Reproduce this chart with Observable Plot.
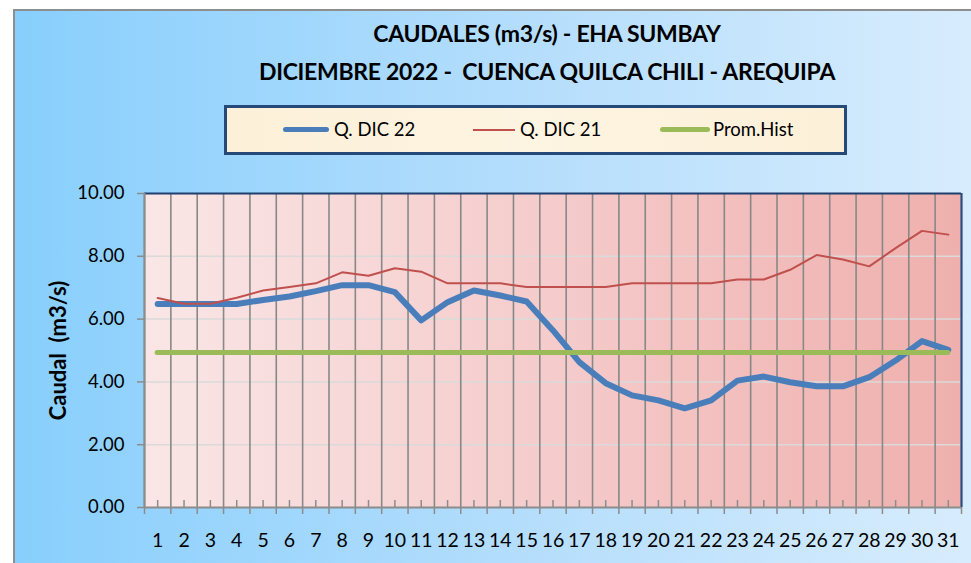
<!DOCTYPE html>
<html><head><meta charset="utf-8">
<script src="https://cdn.jsdelivr.net/npm/d3@7"></script>
<script src="https://cdn.jsdelivr.net/npm/@observablehq/plot@0.6"></script>
<style>
html,body{margin:0;padding:0;background:#fff;color:#000;}
#wrap{position:relative;width:971px;height:563px;overflow:hidden;font-family:Lato,"Open Sans",sans-serif;}
#bg{position:absolute;left:13px;top:9px;width:980px;height:570px;border-top:2px solid #8e8e8e;border-left:2px solid #8e8e8e;background:linear-gradient(to right,#88cffd 0%,#b3ddfc 50%,#d9edfd 100%);}
#chart{position:absolute;left:0;top:0;}
.title{position:absolute;left:147px;width:800px;text-align:center;font-weight:bold;font-size:23px;letter-spacing:-0.3px;line-height:1.2;white-space:pre;}
#legend{position:absolute;left:224px;top:105px;width:623px;height:50px;box-sizing:border-box;border:3px solid #254a7a;background:linear-gradient(to right,#fcf0d8,#fdf4e1 50%,#fcf0d8);}
.sw{position:absolute;border-radius:3px;}
.lt{position:absolute;font-size:18.5px;line-height:1.2;white-space:pre;}
</style></head>
<body>
<div id="wrap">
  <div id="bg"></div>
  <div id="chart"></div>
  <div class="title" style="top:20px">CAUDALES (m3/s) - EHA SUMBAY</div>
  <div class="title" style="top:58px">DICIEMBRE 2022 -  CUENCA QUILCA CHILI - AREQUIPA</div>
  <div id="legend"></div>
  <div class="sw" style="left:283px;top:127px;width:46px;height:5px;background:#4a7ebb"></div>
  <div class="lt" style="left:334px;top:118px">Q. DIC 22</div>
  <div class="sw" style="left:473px;top:129px;width:42px;height:2px;background:#c0504d;border-radius:0"></div>
  <div class="lt" style="left:520px;top:118px">Q. DIC 21</div>
  <div class="sw" style="left:660px;top:127px;width:50px;height:5px;background:#9bbb59"></div>
  <div class="lt" style="left:713px;top:118px">Prom.Hist</div>
</div>
<script>
const days = [1,2,3,4,5,6,7,8,9,10,11,12,13,14,15,16,17,18,19,20,21,22,23,24,25,26,27,28,29,30,31];
const qDic22 = [6.48,6.48,6.48,6.48,6.61,6.72,6.89,7.08,7.08,6.86,5.96,6.54,6.91,6.75,6.56,5.64,4.63,3.96,3.57,3.41,3.16,3.41,4.04,4.17,3.99,3.86,3.86,4.15,4.68,5.30,5.02];
const qDic21 = [6.67,6.49,6.49,6.68,6.91,7.02,7.14,7.49,7.38,7.62,7.51,7.14,7.14,7.14,7.02,7.02,7.02,7.02,7.14,7.14,7.14,7.14,7.26,7.26,7.57,8.04,7.90,7.68,8.26,8.81,8.69];
const promHist = 4.94;
const yTicks = [0,2,4,6,8,10];
const yGrid = [2,4,6,8];
const yLabel = "Caudal\u00a0 (m3/s)";

const bounds = days.map(d => d - 0.5).concat([days[days.length-1] + 0.5]);
const rows = days.map((d, i) => ({day: d, q22: qDic22[i], q21: qDic21[i]}));

const defs = () => {
  const s = d3.create("svg:defs");
  const g = s.append("linearGradient").attr("id","plotGrad").attr("x1","0").attr("x2","1").attr("y1","0").attr("y2","0");
  g.append("stop").attr("offset","0").attr("stop-color","#fae6e6");
  g.append("stop").attr("offset","0.5").attr("stop-color","#f5cbcb");
  g.append("stop").attr("offset","1").attr("stop-color","#efb0ad");
  return s.node();
};

const chart = Plot.plot({
  width: 971, height: 563,
  marginTop: 193, marginLeft: 144, marginRight: 10, marginBottom: 56,
  style: {background: "transparent", fontFamily: "Lato, 'Open Sans', sans-serif", overflow: "visible", color: "#000"},
  x: {type: "linear", domain: [bounds[0], bounds[bounds.length-1]]},
  y: {domain: [0, 10]},
  marks: [
    defs,
    Plot.frame({fill: "url(#plotGrad)", stroke: "none"}),
    Plot.ruleY(yGrid, {stroke: "#dadada", strokeWidth: 1.5}),
    Plot.ruleX(bounds, {stroke: "#888888", strokeWidth: 1.6}),
    Plot.ruleY([10], {stroke: "#1f3f6e", strokeWidth: 2}),
    Plot.ruleX([bounds[bounds.length-1]], {stroke: "#2a4d80", strokeWidth: 2}),
    Plot.ruleX([bounds[0]], {stroke: "#8c8c8c", strokeWidth: 2}),
    Plot.ruleY([0], {stroke: "#8c8c8c", strokeWidth: 2}),
    Plot.ruleX(days, {x: d => d, y1: 0, y2: 0, insetBottom: 7, stroke: "#8c8c8c", strokeWidth: 1.5}),
    Plot.axisX({ticks: bounds, tickSize: 7, tickFormat: () => "", stroke: "#8c8c8c", strokeWidth: 1.5, label: null}),
    Plot.axisX({ticks: days, tickSize: 0, tickPadding: 26, fontSize: 19.5, tickFormat: d => String(d), label: null, fill: "#000"}),
    Plot.axisY({ticks: yTicks, tickSize: 7, tickPadding: 13, fontSize: 18.5, tickFormat: d => d.toFixed(2), stroke: "#8c8c8c", strokeWidth: 1.5, fill: "#000", label: null}),
    Plot.text([yLabel], {frameAnchor: "left", textAnchor: "middle", dx: -86, rotate: -90, fontWeight: "bold", fontSize: 22, letterSpacing: 1.6, fill: "#000"}),
    Plot.line(rows, {x: "day", y: "q22", stroke: "#4a7ebb", strokeWidth: 6, strokeLinejoin: "round", strokeLinecap: "round"}),
    Plot.line(rows, {x: "day", y: "q21", stroke: "#c0504d", strokeWidth: 2, strokeLinejoin: "round"}),
    Plot.ruleY([promHist], {x1: days[0], x2: days[days.length-1], stroke: "#9bbb59", strokeWidth: 5, strokeLinecap: "round"})
  ]
});
document.getElementById("chart").appendChild(chart);
</script>
</body></html>
